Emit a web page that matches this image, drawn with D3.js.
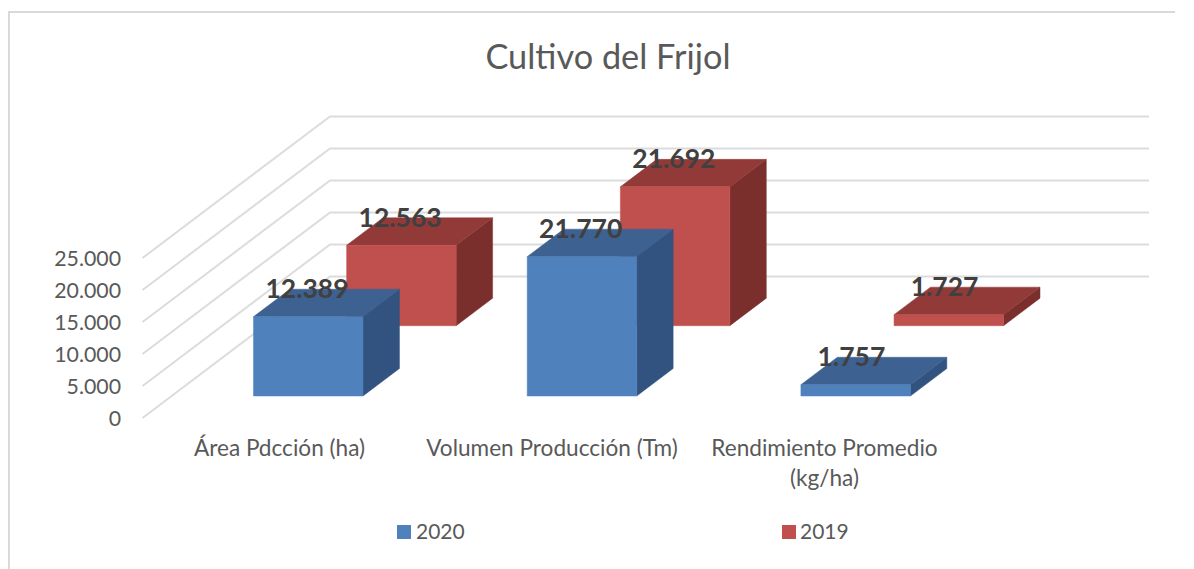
<!DOCTYPE html>
<html><head><meta charset="utf-8">
<style>html,body{margin:0;padding:0;background:#fff}svg{display:block}text{font-family:Lato,"Open Sans",sans-serif}</style>
<script src="https://cdn.jsdelivr.net/npm/d3@7"></script></head>
<body><svg id="c" width="1194" height="569"></svg>
<script>
const categories = ["Área Pdcción (ha)", "Volumen Producción (Tm)", "Rendimiento Promedio (kg/ha)"];
const seriesNames = ["2020", "2019"];
const values2020 = [12389, 21770, 1757];
const values2019 = [12563, 21692, 1727];
const tickValues = [0, 5000, 10000, 15000, 20000, 25000];
const tickLabels = ["0", "5.000", "10.000", "15.000", "20.000", "25.000"];
const valueLabels2020 = ["12.389", "21.770", "1.757"];
const valueLabels2019 = ["12.563", "21.692", "1.727"];
const title = "Cultivo del Frijol";

const svg = d3.select("#c");
const font = "Lato,'Open Sans',sans-serif";
const TXT = "#595959", LBL = "#404040";

// frame
svg.append("path").attr("d","M9,569V12H1175").attr("fill","none").attr("stroke","#d9d9d9").attr("stroke-width",2);

// projection: oblique 3D
const xBand = d3.scaleBand().domain(categories).range([253.5, 253.5+273.7*3]);
const yVal = d3.scaleLinear().domain([0,25000]).range([0,160]);
const DX = 187.5, DY = 141.5, FX = 142.5, FY = 418;
const zFront = {"2020":22/141.5, "2019":92.3/141.5};
const zDepth = 27.5/141.5;
const barW = 109.5;
function pt(x, v, z){ return [x + DX*z, FY - DY*z - yVal(v)]; }

// gridlines
const gridEnd = 1149;
svg.append("g").selectAll("path").data(tickValues).join("path")
  .attr("d", v => { const a=[FX,FY-yVal(v)], b=[FX+DX,FY-DY-yVal(v)]; return `M${a}L${b}H${gridEnd}`; })
  .attr("fill","none").attr("stroke","#dcdcdc").attr("stroke-width",2);

// axis labels
const yAxisScale = d3.scaleLinear().domain([0,25000]).range([418.5,258.5]);
const axis = d3.axisLeft(yAxisScale).tickValues(tickValues).tickFormat((d,i)=>tickLabels[i]).tickSize(0).tickPadding(0);
const ga = svg.append("g").attr("transform","translate(121,0)").call(axis);
ga.select(".domain").remove();
ga.selectAll("text").attr("fill",TXT).style("font-family",font).style("font-size","21.3px").attr("dy","0.35em");

// bars
const colors = {
 "2020":{front:"#4F81BD",top:"#3D6190",side:"#325380"},
 "2019":{front:"#C0504D",top:"#923A38",side:"#7B2F2D"}
};
function drawBars(name, vals, labels){
  const c = colors[name], z0 = zFront[name], z1 = z0+zDepth;
  const g = svg.append("g");
  categories.forEach((cat,i)=>{
    const x0 = xBand(cat) - DX*zFront["2020"], x1 = x0+barW, v = vals[i];
    const poly = (pts,fill)=>g.append("polygon").attr("points",pts.map(p=>p.join(",")).join(" ")).attr("fill",fill).attr("stroke",fill).attr("stroke-width",0.5);
    poly([pt(x1,0,z0),pt(x1,0,z1),pt(x1,v,z1),pt(x1,v,z0)],c.side);
    poly([pt(x0,v,z0),pt(x1,v,z0),pt(x1,v,z1),pt(x0,v,z1)],c.top);
    poly([pt(x0,0,z0),pt(x1,0,z0),pt(x1,v,z0),pt(x0,v,z0)],c.front);
  });
  return ()=>{
    categories.forEach((cat,i)=>{
      const x0 = xBand(cat) - DX*zFront["2020"], v = vals[i];
      const p = pt(x0,v,z0);
      svg.append("text").text(labels[i]).attr("x",p[0]+53.5-(i===2?3:0)).attr("y",p[1]-18.5)
        .attr("text-anchor","middle").attr("fill",LBL).attr("font-weight",700).style("font-size","26.5px");
    });
  };
}
const lab19 = drawBars("2019", values2019, valueLabels2019);
const lab20 = drawBars("2020", values2020, valueLabels2020);
lab19(); lab20();

// title
svg.append("text").text(title).attr("x",608).attr("y",69).attr("text-anchor","middle").attr("fill",TXT).style("font-size","34.3px");

// category labels
const catPos = [[279.5,[456]],[552,[456]],[824.5,[456,486]]];
const catLines = [[categories[0]],[categories[1]],["Rendimiento Promedio","(kg/ha)"]];
catLines.forEach((lines,i)=>lines.forEach((l,j)=>{
  svg.append("text").text(l).attr("x",catPos[i][0]).attr("y",catPos[i][1][j]).attr("text-anchor","middle").attr("fill",TXT).style("font-size","22.6px");
}));

// legend
[[397,416,colors["2020"].front,seriesNames[0]],[782,800,colors["2019"].front,seriesNames[1]]].forEach(([sx,tx,col,t])=>{
  svg.append("rect").attr("x",sx).attr("y",525).attr("width",14).attr("height",14).attr("fill",col);
  svg.append("text").text(t).attr("x",tx).attr("y",539).attr("fill",TXT).style("font-size","21px");
});
</script></body></html>
